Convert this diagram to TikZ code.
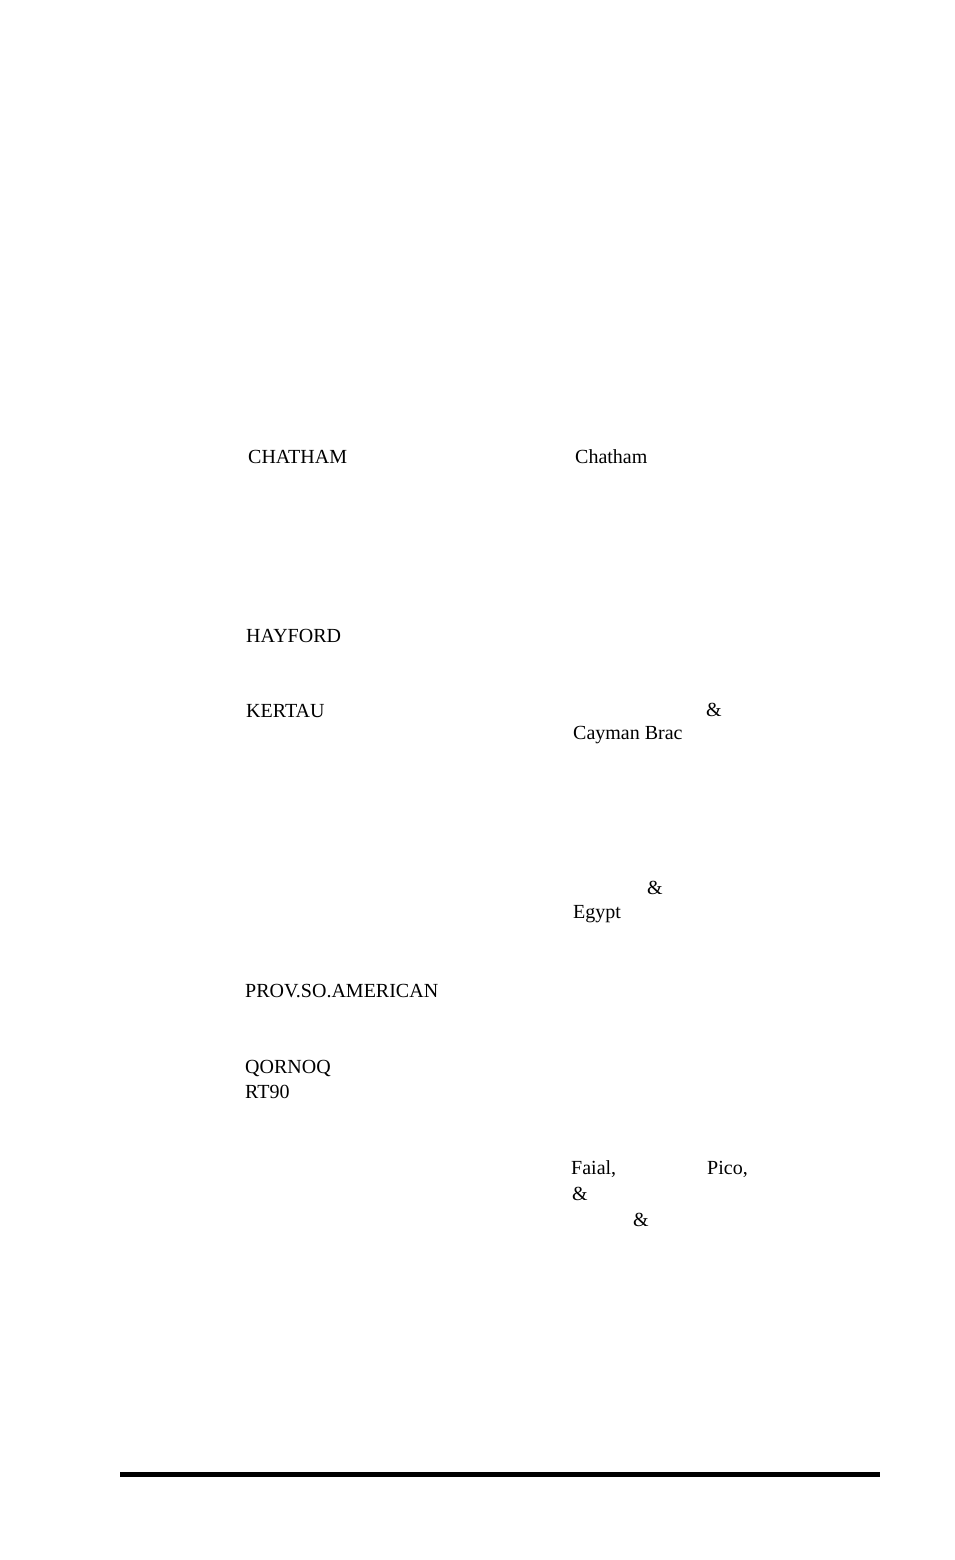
\documentclass[tikz,border=0pt]{standalone}
\usepackage{fontspec}
\setmainfont{Liberation Serif}
\begin{document}
\begin{tikzpicture}[x=1pt,y=-1pt,lbl/.style={anchor=west,inner sep=0pt,font=\fontsize{20}{22}\selectfont}]
\useasboundingbox (0,0) rectangle (954,1560);
\node[lbl] (t1) at (248,457) {CHATHAM};
\node[lbl] (t2) at (575,457) {Chatham};
\node[lbl] (t3) at (246,636) {HAYFORD};
\node[lbl] (t4) at (246,711) {KERTAU};
\node[lbl] (t5) at (706,710) {\&};
\node[lbl] (t6) at (573,735) {Cayman Brac};
\node[lbl] (t7) at (647,888) {\&};
\node[lbl] (t8) at (573,914) {Egypt};
\node[lbl] (t9) at (245,991) {PROV.SO.AMERICAN};
\node[lbl] (t10) at (245,1068) {QORNOQ};
\node[lbl] (t11) at (245,1092) {RT90};
\node[lbl] (t12) at (571,1169) {Faial,};
\node[lbl] (t13) at (707,1169) {Pico,};
\node[lbl] (t14) at (572,1194) {\&};
\node[lbl] (t15) at (633,1220) {\&};
\draw[line width=5pt] (120,1474) -- (880,1474);
\end{tikzpicture}
\end{document}
